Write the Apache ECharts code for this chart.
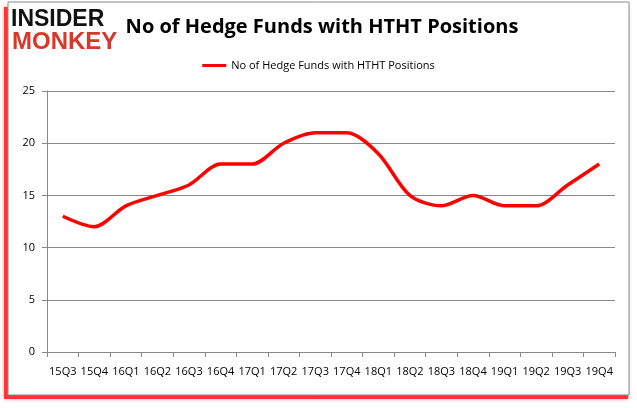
<!DOCTYPE html>
<html><head><meta charset="utf-8">
<script src="https://cdn.jsdelivr.net/npm/echarts@6/dist/echarts.min.js"></script>
<style>html,body{margin:0;padding:0;background:#fff}#c{width:637px;height:408px}</style>
</head><body><div id="c"></div>
<script>
const categories = ['15Q3','15Q4','16Q1','16Q2','16Q3','16Q4','17Q1','17Q2','17Q3','17Q4','18Q1','18Q2','18Q3','18Q4','19Q1','19Q2','19Q3','19Q4'];
const hedgeFunds = [13,12,14,15,16,18,18,20,21,21,19,15,14,15,14,14,16,18];
const seriesName = 'No of Hedge Funds with HTHT Positions';
const titleText = 'No of Hedge Funds with HTHT Positions';

const chart = echarts.init(document.getElementById('c'));
chart.setOption({
  animation: false,
  backgroundColor: '#fff',
  graphic: [
    {type:'rect', shape:{x:4,y:7,width:624,height:392}, style:{fill:'#f33', shadowBlur:4, shadowColor:'rgba(255,0,0,0.4)'}, z:-10},
    {type:'rect', shape:{x:8,y:2,width:621,height:393}, style:{fill:'#fff', stroke:'#888', lineWidth:1}, z:-9},
    {type:'text', left:11, top:8, style:{text:'INSIDER', font:'900 23px "Liberation Sans"', fill:'#111'}, z:5},
    {type:'text', left:12, top:30, style:{text:'MONKEY', font:'900 24px "Liberation Sans"', fill:'#d8372a'}, z:5}
  ],
  title: {text: titleText, left: 317, top: 12, textAlign:'center',
    textStyle:{fontFamily:'"Open Sans"', fontWeight:'bold', fontSize:20, color:'#000'}},
  legend: {top: 55, left: 'center', itemWidth: 24, itemHeight: 3, icon:'rect',
    textStyle:{fontFamily:'"Open Sans"', fontSize:11, color:'#000'}, data:[seriesName]},
  grid: {left: 47, right: 22, top: 91, bottom: 56, containLabel:false},
  xAxis: {type:'category', data: categories, boundaryGap: true,
    axisLine:{lineStyle:{color:'#888'}}, axisTick:{show:true, length:5, alignWithLabel:false, lineStyle:{color:'#888'}},
    axisLabel:{color:'#000', fontFamily:'"Open Sans"', fontSize:11, margin:14, interval:0}},
  yAxis: {type:'value', min:0, max:25, interval:5,
    axisLine:{show:true, lineStyle:{color:'#888'}}, axisTick:{show:true, length:5, lineStyle:{color:'#888'}},
    splitLine:{lineStyle:{color:'#888'}},
    axisLabel:{color:'#000', fontFamily:'"Open Sans"', fontSize:11, margin:12}},
  series: [{name: seriesName, type:'line', data: hedgeFunds, smooth: 0.3, symbol:'none',
    lineStyle:{color:'#ff0000', width:3.5}, itemStyle:{color:'#ff0000'}}]
});
</script></body></html>
